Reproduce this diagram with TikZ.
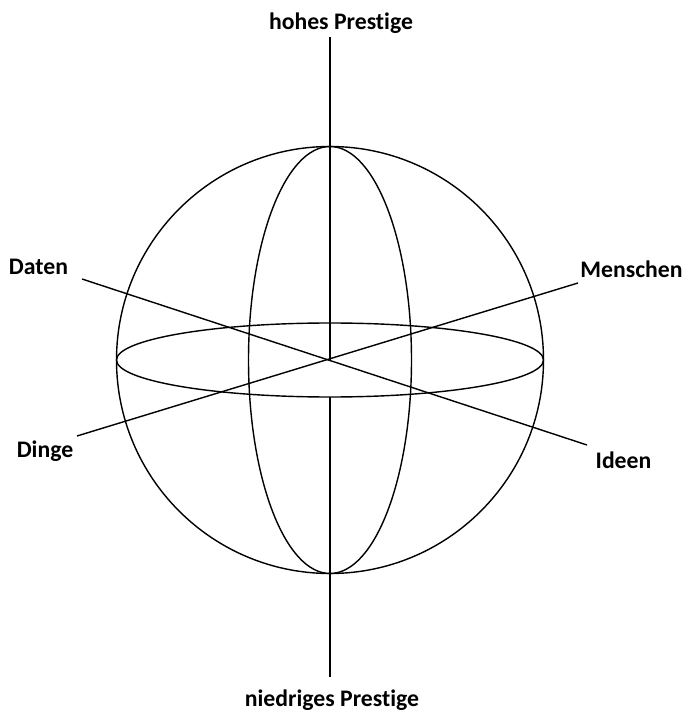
\documentclass[tikz,border=0pt]{standalone}
\usepackage{fontspec}
\setmainfont{Carlito}[Ligatures=NoCommon]
\usepackage{tikz}
\usetikzlibrary{positioning}

\begin{document}
\begin{tikzpicture}[
    line width=0.8pt,
    axislabel/.style={font=\fontsize{13.5}{16}\selectfont\bfseries,anchor=base,inner sep=0pt}]
  \useasboundingbox (-6.6,-7.06) rectangle (7.14,7.2);
  % Sphere with meridian and equator
  \coordinate (c) at (0,0);
  \draw (c) circle (4.27);
  \draw (c) ellipse (1.63 and 4.27);
  \draw (c) ellipse (4.27 and 0.74);
  % Prestige axis (hidden part left out)
  \coordinate (top) at (0,6.46);
  \coordinate (eqlow) at (0,-0.74);
  \coordinate (bottom) at (0,-6.34);
  \draw (top) -- (c);
  \draw (eqlow) -- (bottom);
  % Diagonal axes
  \coordinate (daten) at (-4.96,1.62);
  \coordinate (ideen) at (5.14,-1.70);
  \coordinate (menschen) at (4.96,1.54);
  \coordinate (dinge) at (-5.06,-1.52);
  \draw (daten) -- (ideen);
  \draw (menschen) -- (dinge);
  % Labels
  \node[axislabel] (hoch) at (0.22,6.6) {hohes Prestige};
  \node[axislabel] (niedrig) at (0.04,-6.92) {niedriges Prestige};
  \node[axislabel] (ldaten) at (-5.83,1.70) {Daten};
  \node[axislabel] (ldinge) at (-5.7,-1.94) {Dinge};
  \node[axislabel] (lmenschen) at (6.03,1.64) {Menschen};
  \node[axislabel] (lideen) at (5.87,-2.16) {Ideen};
\end{tikzpicture}
\end{document}
